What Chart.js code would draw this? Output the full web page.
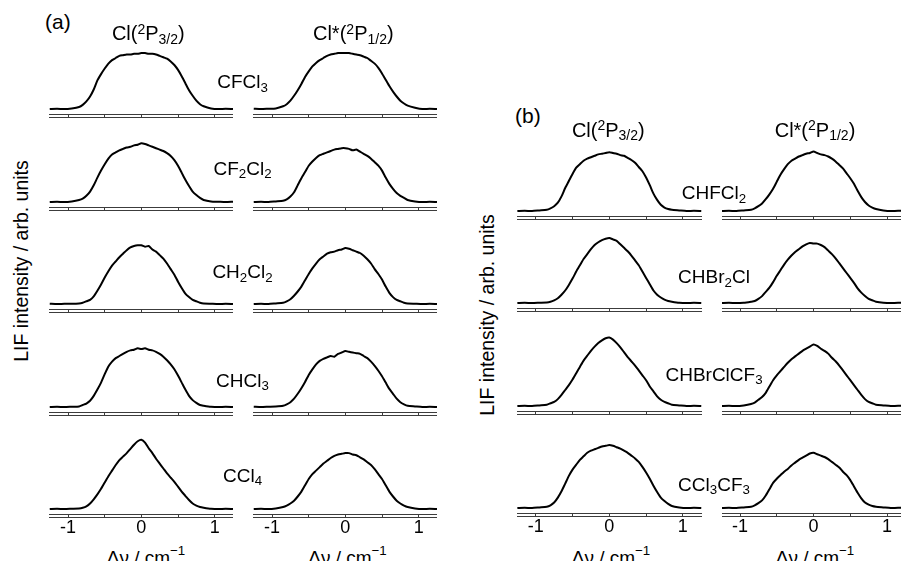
<!DOCTYPE html>
<html>
<head>
<meta charset="utf-8">
<script src="https://cdn.jsdelivr.net/npm/chart.js@4.4.0/dist/chart.umd.min.js"></script>
<style>
  body { margin: 0; width: 901px; height: 561px; overflow: hidden; position: relative; background: #fff;
         font-family: "Liberation Sans", Arial, sans-serif; color: #000; }
  canvas { position: absolute; }
  .t { position: absolute; white-space: nowrap; line-height: 1; }
  .t sub, .t sup { position: relative; font-size: 0.7em; vertical-align: baseline; }
  .t sub { top: 0.25em; }
  .t sup { top: -0.45em; }
  .t.xt sup { top: -0.7em; }
  .yt { position: absolute; white-space: nowrap; line-height: 1; font-size: 19.5px;
        transform: translate(-50%, -50%) rotate(-90deg); }
</style>
</head>
<body>
<script>
// Doppler offset grid (cm-1), shared by every profile
const dv = [-1.25, -1.15, -1.05, -0.95, -0.85,
  -0.8, -0.75, -0.7, -0.65, -0.6, -0.55, -0.5, -0.45, -0.4, -0.35, -0.3, -0.25, -0.2, -0.15, -0.1, -0.05,
  0, 0.05, 0.1, 0.15, 0.2, 0.25, 0.3, 0.35, 0.4, 0.45, 0.5, 0.55, 0.6, 0.65, 0.7, 0.75, 0.8,
  0.85, 0.95, 1.05, 1.15, 1.25];

// panel (a)
const CFCl3_Cl   = [0, 0.005, 0, 0.01, 0.03, .06,.11,.18,.28,.41, .50,.58,.65,.70,.73, .76,.77,.78,.78,.79, .79,.80, .80,.79,.79,.78,.76, .74,.72,.68,.63,.56, .47,.37,.27,.19,.12, .07, 0.04, 0.01, 0, 0.005, 0];
const CFCl3_Clx  = [0.005, 0, 0.005, 0.01, 0.04, .07,.12,.19,.27,.36, .46,.54,.61,.66,.70, .73,.76,.78,.79,.80, .80,.80, .80,.79,.78,.77,.75, .73,.69,.65,.59,.51, .42,.33,.25,.18,.12, .08, 0.05, 0.02, 0, 0.005, 0];
const CF2Cl2_Cl  = [0, 0.005, 0, 0.01, 0.03, .05,.09,.15,.24,.35, .45,.54,.62,.68,.71, .74,.76,.78,.79,.81, .82,.84, .83,.81,.79,.77,.75, .73,.70,.66,.60,.52, .42,.32,.23,.15,.10, .06, 0.03, 0.01, 0.005, 0, 0.005];
const CF2Cl2_Clx = [0, 0.005, 0, 0.01, 0.02, .04,.08,.14,.24,.34, .43,.52,.58,.63,.67, .69,.71,.73,.75,.76, .77,.77, .76,.74,.75,.72,.69, .66,.62,.57,.52,.45, .35,.26,.19,.13,.09, .06, 0.03, 0.01, 0, 0.005, 0];
const CH2Cl2_Cl  = [0.005, 0, 0.005, 0.005, 0.01, .02,.04,.06,.11,.19, .28,.38,.47,.55,.61, .67,.72,.77,.81,.83, .84,.84, .82,.83,.78,.75,.70, .65,.58,.50,.42,.32, .23,.15,.10,.06,.04, .02, 0.01, 0.005, 0, 0.005, 0];
const CH2Cl2_Clx = [0, 0.005, 0, 0.01, 0.02, .04,.07,.12,.18,.25, .34,.43,.51,.58,.64, .68,.72,.74,.75,.77, .78,.80, .79,.77,.75,.73,.69, .64,.58,.50,.43,.35, .25,.16,.10,.06,.04, .02, 0.01, 0.005, 0, 0.005, 0];
const CHCl3_Cl   = [0, 0.005, 0, 0.005, 0.01, .03,.05,.09,.16,.25, .35,.47,.58,.65,.70, .73,.76,.79,.81,.82, .84,.83, .84,.82,.81,.79,.76, .72,.67,.61,.54,.45, .35,.25,.16,.10,.06, .03, 0.02, 0.005, 0, 0.005, 0];
const CHCl3_Clx  = [0.005, 0, 0.005, 0.01, 0.02, .04,.07,.12,.19,.27, .36,.46,.54,.61,.66, .69,.71,.73,.72,.76, .78,.80, .79,.78,.77,.76,.73, .70,.65,.59,.52,.44, .35,.26,.19,.12,.07, .04, 0.02, 0.01, 0, 0.005, 0];
const CCl4_Cl    = [0, 0.005, 0, 0.005, 0.01, .02,.04,.08,.14,.21, .29,.38,.47,.55,.63, .70,.75,.80,.86,.92, .97,.99, .95,.87,.80,.72,.65, .58,.51,.45,.39,.32, .25,.19,.13,.08,.05, .03, 0.02, 0.005, 0, 0.005, 0];
const CCl4_Clx   = [0, 0.005, 0, 0.01, 0.03, .05,.08,.12,.18,.25, .34,.43,.50,.55,.60, .65,.69,.73,.76,.78, .79,.80, .80,.78,.77,.74,.71, .67,.63,.57,.50,.43, .34,.25,.18,.12,.08, .05, 0.03, 0.01, 0, 0.005, 0];

// panel (b)
const CHFCl2_Cl     = [0, 0.005, 0, 0.01, 0.02, .04,.07,.12,.21,.33, .43,.53,.62,.67,.72, .75,.77,.79,.81,.82, .83,.84, .83,.82,.80,.79,.76, .73,.69,.63,.57,.48, .37,.25,.16,.09,.05, .03, 0.02, 0.01, 0, 0.005, 0];
const CHFCl2_Clx    = [0, 0.005, 0, 0.01, 0.02, .04,.07,.11,.17,.24, .32,.42,.52,.60,.67, .72,.75,.78,.80,.82, .83,.85, .83,.81,.80,.78,.75, .71,.66,.61,.54,.47, .39,.29,.20,.13,.08, .05, 0.03, 0.01, 0, 0.005, 0];
const CHBr2Cl_Cl    = [0, 0.005, 0, 0.005, 0.01, .02,.04,.07,.12,.18, .26,.35,.45,.54,.63, .70,.77,.83,.87,.90, .92,.93, .91,.89,.84,.79,.74, .68,.61,.54,.45,.36, .27,.18,.12,.08,.05, .03, 0.02, 0.005, 0, 0.005, 0];
const CHBr2Cl_Clx   = [0, 0.005, 0, 0.005, 0.02, .03,.06,.10,.16,.22, .30,.39,.47,.55,.62, .68,.73,.77,.81,.84, .86,.85, .85,.83,.80,.75,.70, .64,.57,.50,.43,.36, .29,.21,.15,.10,.06, .04, 0.02, 0.005, 0, 0.005, 0];
const CHBrClCF3_Cl  = [0, 0.005, 0, 0.01, 0.02, .04,.06,.10,.16,.23, .30,.38,.47,.56,.65, .72,.79,.85,.90,.94, .97,.98, .95,.90,.84,.77,.70, .64,.58,.51,.44,.37, .28,.21,.14,.09,.06, .04, 0.02, 0.01, 0, 0.005, 0];
const CHBrClCF3_Clx = [0, 0.005, 0, 0.01, 0.03, .05,.09,.13,.19,.28, .37,.44,.50,.56,.62, .67,.71,.75,.79,.82, .85,.88, .86,.82,.79,.75,.69, .64,.58,.51,.44,.37, .30,.23,.16,.10,.06, .04, 0.02, 0.01, 0, 0.005, 0];
const CCl3CF3_Cl    = [0, 0.005, 0, 0.01, 0.02, .04,.08,.15,.24,.35, .46,.55,.62,.69,.74, .79,.82,.84,.86,.88, .89,.90, .89,.87,.85,.82,.79, .75,.71,.66,.59,.51, .42,.32,.23,.15,.10, .06, 0.03, 0.01, 0, 0.005, 0];
const CCl3CF3_Clx   = [0, 0.005, 0, 0.01, 0.02, .04,.07,.11,.18,.27, .36,.42,.47,.52,.56, .61,.65,.69,.72,.75, .78,.79, .77,.75,.73,.70,.66, .62,.58,.52,.47,.40, .31,.22,.14,.08,.05, .03, 0.02, 0.01, 0, 0.005, 0];

// labels
const moleculesA = ['CFCl<sub>3</sub>', 'CF<sub>2</sub>Cl<sub>2</sub>', 'CH<sub>2</sub>Cl<sub>2</sub>', 'CHCl<sub>3</sub>', 'CCl<sub>4</sub>'];
const moleculesB = ['CHFCl<sub>2</sub>', 'CHBr<sub>2</sub>Cl', 'CHBrClCF<sub>3</sub>', 'CCl<sub>3</sub>CF<sub>3</sub>'];
const seriesA = [[CFCl3_Cl, CFCl3_Clx], [CF2Cl2_Cl, CF2Cl2_Clx], [CH2Cl2_Cl, CH2Cl2_Clx], [CHCl3_Cl, CHCl3_Clx], [CCl4_Cl, CCl4_Clx]];
const seriesB = [[CHFCl2_Cl, CHFCl2_Clx], [CHBr2Cl_Cl, CHBr2Cl_Clx], [CHBrClCF3_Cl, CHBrClCF3_Clx], [CCl3CF3_Cl, CCl3CF3_Clx]];
const colTitles = ['Cl(<sup>2</sup>P<sub>3/2</sub>)', 'Cl*(<sup>2</sup>P<sub>1/2</sub>)'];
const xTitle = '&Delta;&nu; / cm<sup>&minus;1</sup>';
const yTitle = 'LIF intensity / arb. units';

const FONT = '"Liberation Sans", Arial, sans-serif';
const AXIS_COLOR = '#3c3c3c';

// second thin line under each axis, ticks join the two
const doubleAxis = {
  id: 'doubleAxis',
  afterDraw(chart) {
    const s = chart.scales.x;
    const ctx = chart.ctx;
    const y = Math.round(s.top) + 3.5;
    ctx.save();
    ctx.strokeStyle = AXIS_COLOR;
    ctx.lineWidth = 1;
    ctx.beginPath();
    ctx.moveTo(s.left, y);
    ctx.lineTo(s.right, y);
    ctx.stroke();
    ctx.restore();
  }
};

function profile(left, axisY, width, xmin, xmax, values, bottom) {
  const axisH = bottom ? 26 : 4;
  const c = document.createElement('canvas');
  c.width = width;
  c.height = 80 + axisH;
  c.style.left = left + 'px';
  c.style.top = (Math.round(axisY) - 80) + 'px';
  document.body.appendChild(c);
  new Chart(c, {
    type: 'line',
    data: {
      datasets: [{
        data: dv.map((x, i) => ({ x: x, y: values[i] })),
        borderColor: '#000',
        borderWidth: 2,
        pointRadius: 0,
        tension: 0.2,
        fill: false
      }]
    },
    options: {
      responsive: false,
      animation: false,
      devicePixelRatio: 1,
      layout: { padding: 0 },
      plugins: { legend: { display: false }, tooltip: { enabled: false } },
      scales: {
        x: {
          type: 'linear', min: xmin, max: xmax,
          afterFit: s => { s.height = axisH; },
          border: { display: true, color: AXIS_COLOR, width: 1 },
          grid: { drawOnChartArea: false, drawTicks: true, tickLength: 3, color: AXIS_COLOR },
          ticks: {
            display: bottom, stepSize: 0.5, includeBounds: false, padding: 0,
            autoSkip: false, maxRotation: 0, color: '#000',
            font: { family: FONT, size: 18 },
            callback: v => Math.abs(v - Math.round(v)) < 1e-6 ? String(Math.round(v) + 0) : ''
          }
        },
        y: { display: false, min: -0.07, max: 1.073 }
      }
    },
    plugins: [doubleAxis]
  });
}

function text(html, x, baseline, size, center, cls) {
  const d = document.createElement('div');
  d.className = 't' + (cls ? ' ' + cls : '');
  d.innerHTML = html;
  d.style.fontSize = size + 'px';
  d.style.left = x + 'px';
  d.style.top = (baseline - 0.8465 * size) + 'px';
  if (center) d.style.transform = 'translateX(-50%)';
  document.body.appendChild(d);
}

function ytext(x, y) {
  const d = document.createElement('div');
  d.className = 'yt';
  d.textContent = yTitle;
  d.style.left = x + 'px';
  d.style.top = y + 'px';
  document.body.appendChild(d);
}

// panel (a) layout
const axesA = [113.5, 206.7, 309.3, 411.7, 514.3];
const labelYA = [88.3, 175, 278.3, 387, 482];
seriesA.forEach((pair, r) => {
  const last = r === seriesA.length - 1;
  profile(49, axesA[r], 184, -1.26, 1.25, pair[0], last);
  profile(253, axesA[r], 184, -1.26, 1.25, pair[1], last);
  text(moleculesA[r], 242.5, labelYA[r], 19, true);
});
text('(a)', 45, 29, 21, false);
text(colTitles[0], 148.3, 40, 20, true);
text(colTitles[1], 353.3, 40, 20, true);
text(xTitle, 146, 564, 19, true, 'xt');
text(xTitle, 347.5, 564, 19, true, 'xt');
ytext(21.7, 261);

// panel (b) layout
const axesB = [216, 308.3, 411, 513.3];
const labelYB = [199.3, 283.3, 381, 490.7];
seriesB.forEach((pair, r) => {
  const last = r === seriesB.length - 1;
  profile(517, axesB[r], 185, -1.255, 1.26, pair[0], last);
  profile(722, axesB[r], 179, -1.245, 1.19, pair[1], last);
  text(moleculesB[r], 714, labelYB[r], 19, true);
});
text('(b)', 515, 122.7, 21, false);
text(colTitles[0], 608.3, 136.7, 20, true);
text(colTitles[1], 815, 136.7, 20, true);
text(xTitle, 611, 564, 19, true, 'xt');
text(xTitle, 815, 564, 19, true, 'xt');
ytext(488.2, 315);
</script>
</body>
</html>
